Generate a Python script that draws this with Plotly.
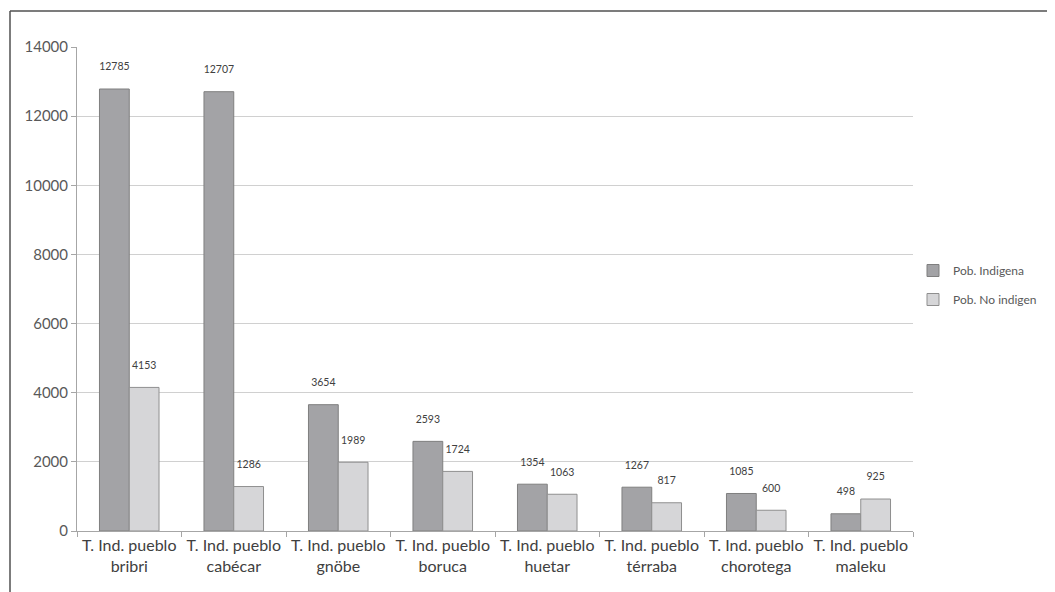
import plotly.graph_objects as go

categories = ["T. Ind. pueblo<br>bribri", "T. Ind. pueblo<br>cabécar", "T. Ind. pueblo<br>gnöbe",
              "T. Ind. pueblo<br>boruca", "T. Ind. pueblo<br>huetar", "T. Ind. pueblo<br>térraba",
              "T. Ind. pueblo<br>chorotega", "T. Ind. pueblo<br>maleku"]
indigena = [12785, 12707, 3654, 2593, 1354, 1267, 1085, 498]
no_indigena = [4153, 1286, 1989, 1724, 1063, 817, 600, 925]
series_names = ["Pob. Indigena", "Pob. No indigen"]

# the page body has an 8px margin, so work in coordinates offset by 8px
OFF = 8
W, H = 1055 - OFF, 592 - OFF
L, T = 77 - OFF, 47 - OFF
R = W - (913 - OFF)
B = H - (531 - OFF)
pw, ph = W - L - R, H - T - B

label_tpl = "%{y}<br> "

fig = go.Figure()
fig.add_trace(go.Bar(x=categories, y=indigena, name=series_names[0], legendgroup="a",
                     marker=dict(color="#a3a3a6", line=dict(color="#7f7f7f", width=1)),
                     texttemplate=label_tpl, textposition="outside", cliponaxis=False,
                     constraintext="none",
                     textfont=dict(size=10.5, color="#404040", family="Lato")))
fig.add_trace(go.Bar(x=categories, y=no_indigena, name=series_names[1], legendgroup="b",
                     marker=dict(color="#d6d6d8", line=dict(color="#8f8f8f", width=1)),
                     texttemplate=label_tpl, textposition="outside", cliponaxis=False,
                     constraintext="none",
                     textfont=dict(size=10.5, color="#404040", family="Lato")))

fig.update_layout(
    width=W, height=H,
    margin=dict(l=L, r=R, t=T, b=B, autoexpand=False),
    paper_bgcolor="white", plot_bgcolor="white",
    barmode="group", bargap=0.43, bargroupgap=0,
    font=dict(family="Lato", color="#595959", size=13),
    legend=dict(x=(913 - OFF - L) / pw, y=1 - (256 - OFF - T) / ph, xanchor="left", yanchor="top",
                font=dict(size=12, color="#595959"), itemwidth=30, tracegroupgap=10,
                bgcolor="rgba(0,0,0,0)"),
    showlegend=True,
    shapes=[
        dict(type="line", xref="paper", yref="paper",
             x0=(10 - OFF - L) / pw, x1=(W - L) / pw,
             y0=1 + (T - (11 - OFF)) / ph, y1=1 + (T - (11 - OFF)) / ph,
             line=dict(color="#505050", width=1.5)),
        dict(type="line", xref="paper", yref="paper",
             x0=(10 - OFF - L) / pw, x1=(10 - OFF - L) / pw,
             y0=1 + (T - (11 - OFF)) / ph, y1=-(B + 5) / ph,
             line=dict(color="#505050", width=1.5)),
    ],
)
fig.update_xaxes(showline=True, linecolor="#a6a6a6", linewidth=1, ticks="outside",
                 tickson="boundaries", ticklen=5, tickcolor="#a6a6a6", automargin=False,
                 tickfont=dict(size=16, color="#404040"), showgrid=False)
fig.update_yaxes(range=[0, 14000], dtick=2000, tickformat="d", showline=True, linecolor="#a6a6a6",
                 ticks="outside", ticklen=5, tickcolor="#a6a6a6", automargin=False,
                 gridcolor="#d0d0d0", gridwidth=1, zeroline=False,
                 tickfont=dict(size=15, color="#595959"))

fig.write_html("out.html")
